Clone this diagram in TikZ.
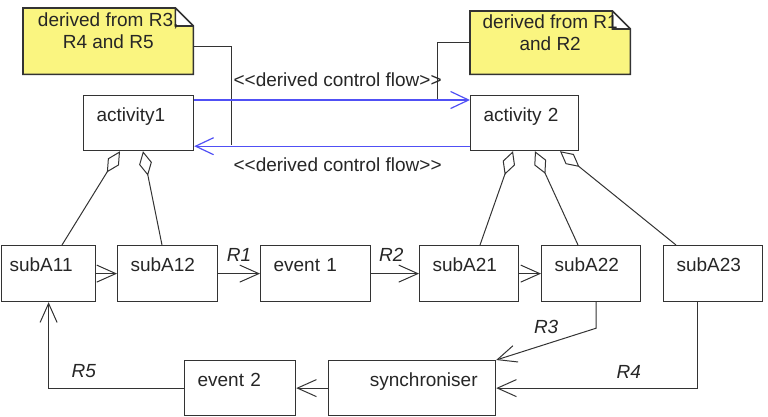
\documentclass[tikz,border=0pt]{standalone}
\usepackage{fontspec}
\setmainfont{Liberation Sans}
\usetikzlibrary{arrows.meta, positioning, calc, backgrounds}
\definecolor{cnote}{RGB}{250,245,128}
\definecolor{cline}{gray}{0.2}
\definecolor{ctext}{gray}{0.15}
\definecolor{cflow}{RGB}{80,80,245}

\begin{document}
\begin{tikzpicture}[x=1pt, y=-1pt,
    font=\fontsize{19}{22}\selectfont,
    box/.style={draw=cline, line width=1.2pt, text=ctext, align=left, inner xsep=13pt, inner ysep=0pt, text height=26pt, text depth=30pt, anchor=north west},
    notebox/.style={anchor=north west, inner sep=0pt},
    notetext/.style={anchor=north, yshift=-5pt, align=center, inner sep=0pt, text=ctext},
    notedraw/.style={draw=cline, fill=cnote, line width=1.6pt, line join=miter},
    wire/.style={draw=cline, line width=1pt},
    flow/.style={draw=cflow, line width=1.2pt, -{Straight Barb[length=18pt, width=17pt]}},
    link/.style={draw=cline, line width=1pt, -{Straight Barb[length=19pt, width=17pt]}},
    agg/.style={draw=cline, line width=1pt, {Diamond[open, length=25pt, width=13pt]}-},
    flowlbl/.style={text=ctext, inner sep=2pt},
    lbl/.style={text=ctext, inner sep=2pt, font=\fontsize{19}{22}\selectfont\itshape}
]
\useasboundingbox (0,0) rectangle (768,416);

% notes
\node[notebox, minimum width=170pt, minimum height=66pt, label={[notetext]north:{derived from R3,\\R4 and R5}}] (note1) at (23,8) {};
\node[notebox, minimum width=160pt, minimum height=63pt, label={[notetext, yshift=1pt]north:{derived from R1\\and R2}}] (note2) at (470,11) {};
\begin{scope}[on background layer]
\foreach \n in {note1,note2}
  \filldraw[notedraw] (\n.north west) -- ([xshift=-18pt]\n.north east) -- ([yshift=-18pt]\n.north east) -- (\n.south east) -- (\n.south west) -- cycle
    ([xshift=-18pt]\n.north east) -- ([xshift=-18pt,yshift=-18pt]\n.north east) -- ([yshift=-18pt]\n.north east);
\end{scope}

% activities
\node[box, text width=84pt, text depth=29pt] (act1) at (83,95) {activity1};
\node[box, text width=82pt, text depth=29pt] (act2) at (470,95) {activity 2};

% sub activities and events
\node[box, text width=78pt, inner xsep=8pt] (sub11) at (1,245) {subA11};
\node[box, text width=74pt] (sub12) at (117,245) {subA12};
\node[box, text width=84pt] (ev1) at (260,245) {event 1};
\node[box, text width=73pt] (sub21) at (419,245) {subA21};
\node[box, text width=73pt] (sub22) at (541,245) {subA22};
\node[box, text width=73pt] (sub23) at (663,245) {subA23};
\node[box, text width=85pt, text depth=29pt] (ev2) at (184,360) {event 2};
\node[box, text width=131pt, inner xsep=18pt, align=right, text depth=29pt] (syn) at (328,360) {synchroniser};

% note anchors
\coordinate (tap1) at (231,145);
\coordinate (tap2) at (437,100);
\draw[wire] ([yshift=-5pt]note1.east) -| (tap1);
\draw[wire] (note2.west) -| (tap2);

% derived control flows
\draw[flow] ([yshift=-5pt]act1.north east) -- ([yshift=-5pt]act2.north west) node[flowlbl, pos=0.52, above=11pt] {<{}<derived control flow>{}>};
\draw[flow] ([yshift=5pt]act2.south west) -- ([yshift=5pt]act1.south east) node[flowlbl, pos=0.48, below=9pt] {<{}<derived control flow>{}>};

% aggregations
\draw[agg] ([xshift=37pt]act1.south west) -- ([xshift=61pt]sub11.north west);
\draw[agg] ([xshift=60pt]act1.south west) -- ([xshift=45pt]sub12.north west);
\draw[agg] ([xshift=43pt]act2.south west) -- ([xshift=61pt]sub21.north west);
\draw[agg] ([xshift=65pt]act2.south west) -- ([xshift=37pt]sub22.north west);
\draw[agg] ([xshift=90pt]act2.south west) -- ([xshift=13pt]sub23.north west);

% control flow
\draw[link] (sub11.east) -- (sub12.west);
\draw[link] (sub12.east) -- (ev1.west) node[lbl, midway, above=10pt] {R1};
\draw[link] (ev1.east) -- (sub21.west) node[lbl, pos=0.42, above=10pt] {R2};
\draw[link] (sub21.east) -- (sub22.west);
\draw[link] ([xshift=5pt]sub22.south) -- ++(0,26) -- (syn.north east) node[lbl, midway, above=8pt] {R3};
\draw[link] ([xshift=-16pt]sub23.south) |- (syn.east) node[lbl, pos=0.67, above=7pt] {R4};
\draw[link] (syn.west) -- (ev2.east);
\draw[link] (ev2.west) -| (sub11.south) node[lbl, pos=0.37, above=8pt] {R5};
\end{tikzpicture}
\end{document}
